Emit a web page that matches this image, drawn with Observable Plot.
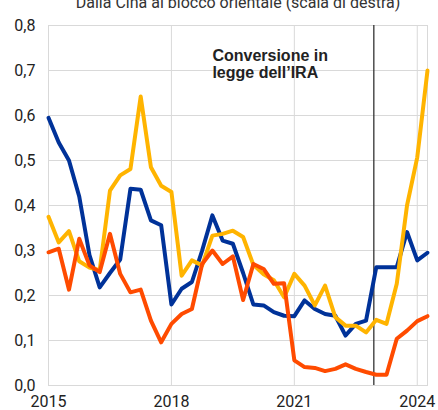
<!DOCTYPE html>
<html><head><meta charset="utf-8">
<script src="https://cdn.jsdelivr.net/npm/d3@7"></script>
<script src="https://cdn.jsdelivr.net/npm/@observablehq/plot@0.6"></script>
<style>body{margin:0;background:#fff} svg{display:block}</style>
</head><body><div id="chart"></div>
<script>
const quarters = ["2015Q1","2015Q2","2015Q3","2015Q4","2016Q1","2016Q2","2016Q3","2016Q4",
  "2017Q1","2017Q2","2017Q3","2017Q4","2018Q1","2018Q2","2018Q3","2018Q4",
  "2019Q1","2019Q2","2019Q3","2019Q4","2020Q1","2020Q2","2020Q3","2020Q4",
  "2021Q1","2021Q2","2021Q3","2021Q4","2022Q1","2022Q2","2022Q3","2022Q4",
  "2023Q1","2023Q2","2023Q3","2023Q4","2024Q1","2024Q2"];
const seriesBlue = [0.595,0.54,0.50,0.42,0.29,0.218,0.25,0.28,0.437,0.435,0.367,0.356,0.18,0.215,0.23,0.30,0.378,0.322,0.315,0.25,0.18,0.178,0.163,0.155,0.154,0.189,0.17,0.159,0.155,0.111,0.137,0.144,0.263,0.263,0.263,0.341,0.278,0.295];
const seriesYellow = [0.375,0.318,0.343,0.276,0.262,0.256,0.433,0.467,0.481,0.642,0.485,0.444,0.43,0.244,0.278,0.267,0.333,0.337,0.344,0.33,0.268,0.247,0.234,0.196,0.248,0.222,0.178,0.222,0.152,0.133,0.133,0.118,0.146,0.137,0.226,0.40,0.507,0.70];
const seriesOrange = [0.296,0.304,0.213,0.326,0.267,0.252,0.337,0.248,0.207,0.213,0.144,0.096,0.137,0.159,0.17,0.27,0.30,0.27,0.287,0.19,0.27,0.259,0.226,0.227,0.056,0.041,0.039,0.032,0.037,0.047,0.037,0.03,0.024,0.024,0.104,0.122,0.143,0.154];
const yTicks = [0,0.1,0.2,0.3,0.4,0.5,0.6,0.7,0.8];
const xTicks = [2015,2018,2021,2024];
const iraDate = 2022.94;
const titleText = "Dalla Cina al blocco orientale (scala di destra)";
const annotation = "Conversione in\nlegge dell\u2019IRA";
const colors = {blue:"#003299", yellow:"#FFB400", orange:"#FF4B00"};

const toYear = q => +q.slice(0,4) + (+q.slice(5) - 1) / 4;
const mk = (arr) => quarters.map((q,i) => ({x: toYear(q), y: arr[i]}));

const font = "Roboto, 'Liberation Sans', Arial, sans-serif";
const chart = Plot.plot({
  width: 438, height: 410,
  marginLeft: 48, marginRight: 11, marginTop: 25, marginBottom: 25,
  style: {fontFamily: font, fontSize: "16px", color: "#222", background: "#fff"},
  x: {domain: [2015, 2024.25], ticks: xTicks, tickFormat: d => String(d), tickSize: 0, tickPadding: 10, label: null, fontSize: 15},
  y: {domain: [0, 0.8], ticks: yTicks, tickFormat: d => d.toFixed(1).replace(".", ","), tickSize: 0, tickPadding: 13, label: null},
  marks: [
    Plot.gridY(yTicks, {stroke: "#d9d9d9", strokeOpacity: 1, strokeWidth: 1}),
    Plot.gridX(xTicks, {stroke: "#d9d9d9", strokeOpacity: 1, strokeWidth: 1}),
    Plot.frame({stroke: "#d9d9d9", strokeWidth: 1}),
    Plot.ruleX([iraDate], {stroke: "#333", strokeWidth: 1.3}),
    Plot.line(mk(seriesBlue), {x: "x", y: "y", stroke: colors.blue, strokeWidth: 4, strokeLinejoin: "round"}),
    Plot.line(mk(seriesYellow), {x: "x", y: "y", stroke: colors.yellow, strokeWidth: 4, strokeLinejoin: "round"}),
    Plot.line(mk(seriesOrange), {x: "x", y: "y", stroke: colors.orange, strokeWidth: 4, strokeLinejoin: "round"}),
    Plot.text([annotation], {x: 2019.0, y: 0.748, text: d => d, textAnchor: "start", lineAnchor: "top", fontFamily: "'Liberation Sans', Arial, sans-serif", fontWeight: "bold", fontSize: 16, lineHeight: 1.06, fill: "#222"}),
    Plot.text([titleText], {frameAnchor: "top", dy: -18, lineAnchor: "bottom", text: d => d, fontSize: 16, fill: "#333"})
  ]
});
document.getElementById("chart").appendChild(chart);
</script>
</body></html>
